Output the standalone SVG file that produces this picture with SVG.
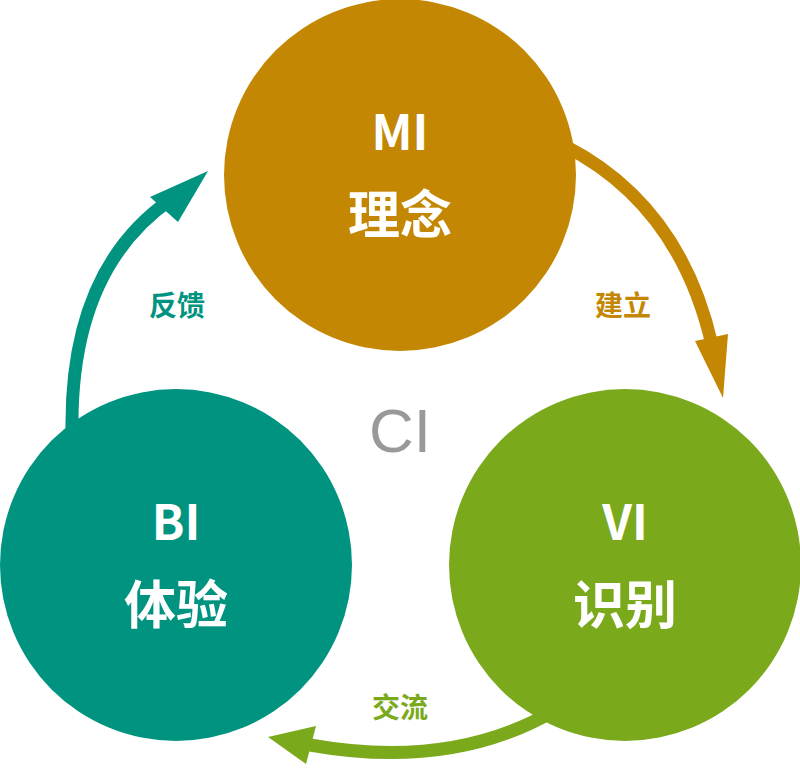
<svg xmlns="http://www.w3.org/2000/svg" width="800" height="770" viewBox="0 0 800 770">
<style>
.t{font-family:"Noto Sans CJK SC","Liberation Sans",sans-serif;fill:#fff;text-anchor:middle;font-weight:bold}
.l{font-family:"Noto Sans CJK SC",sans-serif;font-size:28px;text-anchor:middle;font-weight:bold}
.a{fill:none;stroke-width:13}
</style>
<rect width="800" height="770" fill="#fff"/>
<g id="connectors">
<path class="a" stroke="#c48703" d="M565,146 Q680,205 712,345"/>
<polygon fill="#c48703" points="723,398 695,341 728,334"/>
<path class="a" stroke="#7ba91c" d="M552,712 Q450,770 310,745"/>
<polygon fill="#7ba91c" points="268,737 316,726 306,764"/>
<path class="a" stroke="#009480" d="M72,430 Q70,270 170,200"/>
<polygon fill="#009480" points="208,171 150,197 178,222"/>
<text class="l" x="623" y="316" fill="#c48703">建立</text>
<text class="l" x="400" y="718" fill="#7ba91c">交流</text>
<text class="l" x="177" y="316" fill="#009480">反馈</text>
</g>
<g id="mi"><circle cx="400" cy="175" r="176" fill="#c48703"/>
<text class="t" x="400" y="150" font-size="48">MI</text>
<text class="t" x="400" y="234" font-size="52">理念</text></g>
<g id="vi"><circle cx="625" cy="565" r="176" fill="#7ba91c"/>
<text class="t" x="625" y="540" font-size="48">VI</text>
<text class="t" x="625" y="624" font-size="52">识别</text></g>
<g id="bi"><circle cx="176" cy="565" r="176" fill="#009480"/>
<text class="t" x="176" y="540" font-size="48">BI</text>
<text class="t" x="176" y="624" font-size="52">体验</text></g>
<g id="ci"><text x="400" y="452" font-family="Liberation Sans,sans-serif" font-size="62" fill="#999" text-anchor="middle">CI</text></g>
</svg>
